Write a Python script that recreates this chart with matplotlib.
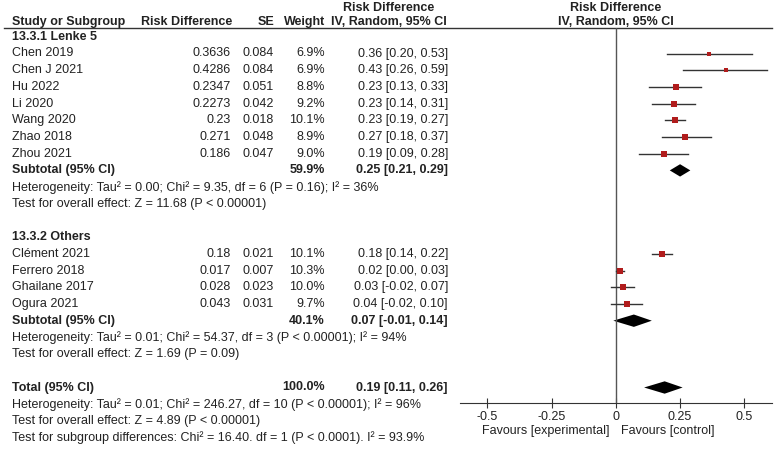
import matplotlib
matplotlib.use('Agg')
import matplotlib.pyplot as plt
from matplotlib.patches import Polygon

plt.rcParams['font.family'] = ['Liberation Sans', 'DejaVu Sans']
plt.rcParams['font.size'] = 9

# subgroup 13.3.1 Lenke 5
names_a = ['Chen 2019', 'Chen J 2021', 'Hu 2022', 'Li 2020', 'Wang 2020', 'Zhao 2018', 'Zhou 2021']
rd_a = ['0.3636', '0.4286', '0.2347', '0.2273', '0.23', '0.271', '0.186']
se_a = ['0.084', '0.084', '0.051', '0.042', '0.018', '0.048', '0.047']
w_a = [6.9, 6.9, 8.8, 9.2, 10.1, 8.9, 9.0]
lo_a = [0.20, 0.26, 0.13, 0.14, 0.19, 0.18, 0.09]
hi_a = [0.53, 0.59, 0.33, 0.31, 0.27, 0.37, 0.28]
sub_a = (59.9, 0.25, 0.21, 0.29)
het_a = 'Heterogeneity: Tau² = 0.00; Chi² = 9.35, df = 6 (P = 0.16); I² = 36%'
test_a = 'Test for overall effect: Z = 11.68 (P < 0.00001)'

# subgroup 13.3.2 Others
names_b = ['Clément 2021', 'Ferrero 2018', 'Ghailane 2017', 'Ogura 2021']
rd_b = ['0.18', '0.017', '0.028', '0.043']
se_b = ['0.021', '0.007', '0.023', '0.031']
w_b = [10.1, 10.3, 10.0, 9.7]
lo_b = [0.14, 0.00, -0.02, -0.02]
hi_b = [0.22, 0.03, 0.07, 0.10]
sub_b = (40.1, 0.07, -0.01, 0.14)
het_b = 'Heterogeneity: Tau² = 0.01; Chi² = 54.37, df = 3 (P < 0.00001); I² = 94%'
test_b = 'Test for overall effect: Z = 1.69 (P = 0.09)'

total = (100.0, 0.19, 0.11, 0.26)
het_t = 'Heterogeneity: Tau² = 0.01; Chi² = 246.27, df = 10 (P < 0.00001); I² = 96%'
test_t = 'Test for overall effect: Z = 4.89 (P < 0.00001)'
test_sub = 'Test for subgroup differences: Chi² = 16.40. df = 1 (P < 0.0001). I² = 93.9%'

ticks = [-0.5, -0.25, 0, 0.25, 0.5]
tick_labels = ['-0.5', '-0.25', '0', '0.25', '0.5']

W, H = 784, 450
Y0, DY = 36.8, 16.7


def row(px):
    return (px - Y0) / DY


fig = plt.figure(figsize=(W / 100, H / 100), dpi=100)
axT = fig.add_axes([0, 0, 1, 1])
axT.set_xlim(0, W)
axT.set_ylim(row(H), row(0))
axT.axis('off')

axP = fig.add_axes([460 / W, (H - 403) / H, (772 - 460) / W, (403 - 28) / H])
axP.set_xlim(-0.607, 0.608)
axP.set_ylim(row(403), row(28))
axP.patch.set_alpha(0)
for s in ['top', 'left', 'right']:
    axP.spines[s].set_visible(False)
axP.spines['bottom'].set_color('#333333')
axP.set_yticks([])
axP.set_xticks(ticks)
axP.set_xticklabels(tick_labels)
axP.tick_params(axis='x', direction='inout', length=7, pad=2, colors='#333333', labelcolor='#222222')
axP.axvline(0, color='#555555', lw=1)

X_NAME, X_RD, X_SE, X_W, X_CI, X_HEAD = 12, 231, 274, 325, 448, 389
txt = dict(color='#222222', va='center')

# header
axT.text(X_HEAD, row(8), 'Risk Difference', ha='center', fontweight='bold', **txt)
axT.text(615.7, row(8), 'Risk Difference', ha='center', fontweight='bold', **txt)
axT.text(X_NAME, row(22), 'Study or Subgroup', ha='left', fontweight='bold', **txt)
axT.text(141, row(22), 'Risk Difference', ha='left', fontweight='bold', **txt)
axT.text(X_SE, row(22), 'SE', ha='right', fontweight='bold', **txt)
axT.text(X_W, row(22), 'Weight', ha='right', fontweight='bold', **txt)
axT.text(X_HEAD, row(22), 'IV, Random, 95% CI', ha='center', fontweight='bold', **txt)
axT.text(615.7, row(22), 'IV, Random, 95% CI', ha='center', fontweight='bold', **txt)
axT.plot([4, 772], [row(28), row(28)], color='#333333', lw=1)


def diamond(k, est, lo, hi):
    h = 0.37
    axP.add_patch(Polygon([[lo, k], [est, k - h], [hi, k], [est, k + h]],
                          closed=True, color='black', lw=0))


def group(k0, title, names, rd, se, w, lo, hi, sub, het, test):
    axT.text(X_NAME, k0, title, ha='left', fontweight='bold', **txt)
    for i in range(len(names)):
        k = k0 + 1 + i
        est = float(rd[i])
        axT.text(X_NAME, k, names[i], ha='left', **txt)
        axT.text(X_RD, k, rd[i], ha='right', **txt)
        axT.text(X_SE, k, se[i], ha='right', **txt)
        axT.text(X_W, k, f'{w[i]:.1f}%', ha='right', **txt)
        axT.text(X_CI, k, f'{est:.2f} [{lo[i]:.2f}, {hi[i]:.2f}]', ha='right', **txt)
        axP.plot([lo[i], hi[i]], [k, k], color='#333333', lw=1)
        axP.plot(est, k, 's', color='#b01c1c', ms=1.3 * w[i] ** 0.5, mew=0, snap=False)
    k = k0 + 1 + len(names)
    axT.text(X_NAME, k, 'Subtotal (95% CI)', ha='left', fontweight='bold', **txt)
    axT.text(X_W, k, f'{sub[0]:.1f}%', ha='right', fontweight='bold', **txt)
    axT.text(X_CI, k, f'{sub[1]:.2f} [{sub[2]:.2f}, {sub[3]:.2f}]', ha='right', fontweight='bold', **txt)
    diamond(k, sub[1], sub[2], sub[3])
    axT.text(X_NAME, k + 1, het, ha='left', **txt)
    axT.text(X_NAME, k + 2, test, ha='left', **txt)


group(0, '13.3.1 Lenke 5', names_a, rd_a, se_a, w_a, lo_a, hi_a, sub_a, het_a, test_a)
group(12, '13.3.2 Others', names_b, rd_b, se_b, w_b, lo_b, hi_b, sub_b, het_b, test_b)

k = 21
axT.text(X_NAME, k, 'Total (95% CI)', ha='left', fontweight='bold', **txt)
axT.text(X_W, k, f'{total[0]:.1f}%', ha='right', fontweight='bold', **txt)
axT.text(X_CI, k, f'{total[1]:.2f} [{total[2]:.2f}, {total[3]:.2f}]', ha='right', fontweight='bold', **txt)
diamond(k, total[1], total[2], total[3])
axT.text(X_NAME, k + 1, het_t, ha='left', **txt)
axT.text(X_NAME, k + 2, test_t, ha='left', **txt)
axT.text(X_NAME, k + 3, test_sub, ha='left', **txt)

axT.text(610, row(431), 'Favours [experimental]', ha='right', **txt)
axT.text(621, row(431), 'Favours [control]', ha='left', **txt)

fig.savefig('out.png', dpi=100)
